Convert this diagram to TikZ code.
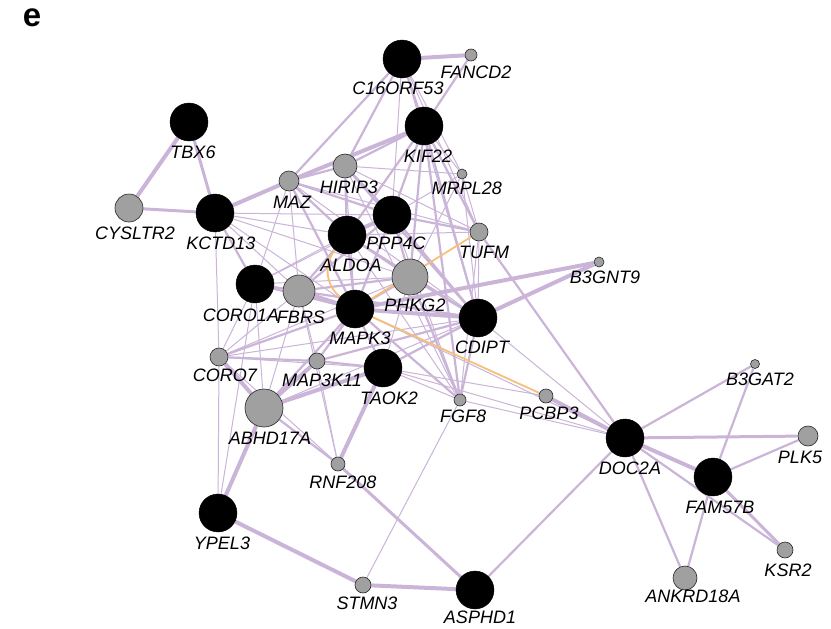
\documentclass[tikz,border=0pt]{standalone}
\usepackage{fontspec}
\setmainfont{Liberation Sans}
\definecolor{edgec}{RGB}{202,180,216}
\definecolor{orng}{RGB}{246,192,122}
\definecolor{gnode}{RGB}{160,160,160}
\pgfdeclarelayer{background}
\pgfsetlayers{background,main}
\begin{document}
\begin{tikzpicture}[x=1pt,y=-1pt,
  bk/.style={circle,fill=black,draw=black,inner sep=0pt,minimum size=#1},
  gy/.style={circle,fill=gnode,draw=black!85,line width=0.6pt,inner sep=0pt,minimum size=#1},
  lbl/.style={font=\fontsize{18}{18}\selectfont\itshape,inner sep=0pt,anchor=center},
  eA/.style={draw=edgec,line width=1pt},
  eB/.style={draw=edgec,line width=2.2pt},
  eC/.style={draw=edgec,line width=4pt},
  org/.style={draw=orng,line width=1.8pt}]
\useasboundingbox (0,0) rectangle (831,629);
\node[font=\bfseries\fontsize{33}{33}\selectfont,inner sep=0pt] (panel) at (32,18) {e};
% nodes
\node[bk=38pt] (C16) at (402,59) {};
\node[gy=12pt] (FANCD2) at (471,55) {};
\node[bk=38pt] (KIF22) at (424,126) {};
\node[gy=10pt] (MRPL28) at (462,174) {};
\node[bk=38pt] (TBX6) at (189,122) {};
\node[gy=24pt] (HIRIP3) at (345,166) {};
\node[gy=20pt] (MAZ) at (289,181) {};
\node[gy=28pt] (CYSLTR2) at (129,208) {};
\node[bk=38pt] (KCTD13) at (215,213) {};
\node[bk=38pt] (PPP4C) at (392,215) {};
\node[bk=38pt] (ALDOA) at (347,235) {};
\node[gy=18pt] (TUFM) at (479,232) {};
\node[gy=10pt] (B3GNT9) at (599,262) {};
\node[gy=36pt] (PHKG2) at (410,277) {};
\node[bk=38pt] (CORO1A) at (255,284) {};
\node[gy=32pt] (FBRS) at (299,291) {};
\node[bk=38pt] (MAPK3) at (355,309) {};
\node[bk=38pt] (CDIPT) at (478,318) {};
\node[gy=18pt] (CORO7) at (219,357) {};
\node[gy=16pt] (MAP3K11) at (317,361) {};
\node[bk=38pt] (TAOK2) at (383,368) {};
\node[gy=38pt] (ABHD17A) at (264,408) {};
\node[gy=12pt] (FGF8) at (460,400) {};
\node[gy=14pt] (PCBP3) at (546,396) {};
\node[gy=9pt] (B3GAT2) at (755,364) {};
\node[bk=38pt] (DOC2A) at (625,438) {};
\node[gy=20pt] (PLK5) at (808,436) {};
\node[bk=38pt] (FAM57B) at (713,477) {};
\node[gy=14pt] (RNF208) at (338,464) {};
\node[bk=38pt] (YPEL3) at (218,513) {};
\node[gy=16pt] (KSR2) at (785,550) {};
\node[gy=24pt] (ANKRD18A) at (685,578) {};
\node[gy=16pt] (STMN3) at (363,585) {};
\node[bk=38pt] (ASPHD1) at (475,590) {};
% edges
\begin{pgfonlayer}{background}
\foreach \a/\b in {C16/MRPL28,C16/PPP4C,C16/TUFM,C16/CDIPT,KIF22/MRPL28,HIRIP3/MRPL28,HIRIP3/TUFM,HIRIP3/MAPK3,HIRIP3/FGF8,
  MAZ/FBRS,MAZ/CORO1A,MAZ/TUFM,MAZ/CDIPT,KCTD13/CORO7,KCTD13/ALDOA,KCTD13/PHKG2,KCTD13/FBRS,KCTD13/MAPK3,KCTD13/PPP4C,
  PPP4C/MRPL28,PPP4C/FGF8,PPP4C/CORO1A,ALDOA/CORO1A,ALDOA/TUFM,ALDOA/FGF8,MRPL28/TUFM,MRPL28/CDIPT,MRPL28/PHKG2,
  TUFM/CDIPT,TUFM/FGF8,PHKG2/CORO1A,PHKG2/CORO7,PHKG2/TAOK2,CORO1A/CORO7,CORO1A/YPEL3,CORO1A/ABHD17A,
  FBRS/CORO7,FBRS/MAP3K11,FBRS/RNF208,FBRS/ABHD17A,MAPK3/DOC2A,CDIPT/CORO7,CDIPT/DOC2A,CDIPT/ABHD17A,
  CORO7/TAOK2,CORO7/RNF208,CORO7/YPEL3,MAP3K11/RNF208,TAOK2/FGF8,TAOK2/PCBP3,TAOK2/DOC2A,FGF8/STMN3,FGF8/DOC2A}
  \draw[eA] (\a) -- (\b);
\foreach \a/\b in {C16/KIF22,FANCD2/KIF22,C16/MAZ,C16/HIRIP3,KIF22/HIRIP3,KIF22/PPP4C,KIF22/ALDOA,KIF22/TUFM,KIF22/CDIPT,
  KIF22/FGF8,KIF22/PHKG2,HIRIP3/PPP4C,HIRIP3/ALDOA,HIRIP3/CDIPT,HIRIP3/MAZ,MAZ/ALDOA,MAZ/PPP4C,MAZ/MAPK3,KCTD13/CORO1A,
  PPP4C/TUFM,PPP4C/PHKG2,PPP4C/CDIPT,PPP4C/MAPK3,PPP4C/FBRS,ALDOA/PHKG2,ALDOA/CDIPT,ALDOA/MAPK3,ALDOA/FBRS,
  PHKG2/MAPK3,PHKG2/CDIPT,PHKG2/FBRS,PHKG2/FGF8,CORO1A/FBRS,CORO1A/MAPK3,FBRS/CDIPT,MAPK3/TAOK2,MAPK3/MAP3K11,
  MAPK3/CORO7,MAPK3/ABHD17A,MAPK3/FGF8,CDIPT/TAOK2,CDIPT/FGF8,CDIPT/MAP3K11,CORO7/MAP3K11,MAP3K11/TAOK2,
  ABHD17A/RNF208,TUFM/DOC2A,ASPHD1/DOC2A,DOC2A/B3GAT2,DOC2A/KSR2,DOC2A/ANKRD18A,FAM57B/B3GAT2,FAM57B/PLK5,FAM57B/ANKRD18A}
  \draw[eB] (\a) -- (\b);
\foreach \a/\b in {TBX6/KCTD13,CYSLTR2/KCTD13,RNF208/ASPHD1,DOC2A/PLK5,FAM57B/KSR2}
  \draw[draw=edgec,line width=3pt] (\a) -- (\b);
\foreach \a/\b in {C16/FANCD2,TBX6/CYSLTR2,KCTD13/MAZ,KIF22/MAZ,PPP4C/ALDOA,B3GNT9/MAPK3,B3GNT9/CDIPT,FBRS/MAPK3,
  MAPK3/CDIPT,CORO7/ABHD17A,MAP3K11/ABHD17A,TAOK2/ABHD17A,TAOK2/RNF208,ABHD17A/YPEL3,YPEL3/STMN3,STMN3/ASPHD1,
  PCBP3/DOC2A,DOC2A/FAM57B}
  \draw[eC] (\a) -- (\b);
\draw[org] (TUFM) -- (MAPK3);
\draw[org] (MAPK3) -- (PCBP3);
\draw[org] (ALDOA) to[bend right=45] (MAPK3);
\end{pgfonlayer}
% labels
\node[lbl] (lC16) at (398,88) {C16ORF53};
\node[lbl] (lFANCD2) at (476,72) {FANCD2};
\node[lbl] (lKIF22) at (428,156) {KIF22};
\node[lbl] (lMRPL28) at (467,188) {MRPL28};
\node[lbl] (lTBX6) at (193,152) {TBX6};
\node[lbl] (lHIRIP3) at (349,187) {HIRIP3};
\node[lbl] (lMAZ) at (292,202) {MAZ};
\node[lbl] (lCYSLTR2) at (135,233) {CYSLTR2};
\node[lbl] (lKCTD13) at (221,243) {KCTD13};
\node[lbl] (lPPP4C) at (396,243) {PPP4C};
\node[lbl] (lALDOA) at (351,265) {ALDOA};
\node[lbl] (lTUFM) at (484,252) {TUFM};
\node[lbl] (lB3GNT9) at (605,277) {B3GNT9};
\node[lbl] (lPHKG2) at (415,305) {PHKG2};
\node[lbl] (lCORO1A) at (241,315) {CORO1A};
\node[lbl] (lFBRS) at (301,317) {FBRS};
\node[lbl] (lMAPK3) at (360,338) {MAPK3};
\node[lbl] (lCDIPT) at (482,347) {CDIPT};
\node[lbl] (lCORO7) at (225,375) {CORO7};
\node[lbl] (lMAP3K11) at (322,380) {MAP3K11};
\node[lbl] (lTAOK2) at (389,398) {TAOK2};
\node[lbl] (lFGF8) at (463,416) {FGF8};
\node[lbl] (lABHD17A) at (270,438) {ABHD17A};
\node[lbl] (lPCBP3) at (549,413) {PCBP3};
\node[lbl] (lB3GAT2) at (760,379) {B3GAT2};
\node[lbl] (lDOC2A) at (630,468) {DOC2A};
\node[lbl] (lPLK5) at (800,457) {PLK5};
\node[lbl] (lFAM57B) at (720,507) {FAM57B};
\node[lbl] (lRNF208) at (343,482) {RNF208};
\node[lbl] (lYPEL3) at (222,543) {YPEL3};
\node[lbl] (lKSR2) at (788,570) {KSR2};
\node[lbl] (lANKRD18A) at (693,596) {ANKRD18A};
\node[lbl] (lSTMN3) at (367,603) {STMN3};
\node[lbl] (lASPHD1) at (480,617) {ASPHD1};
\end{tikzpicture}
\end{document}
